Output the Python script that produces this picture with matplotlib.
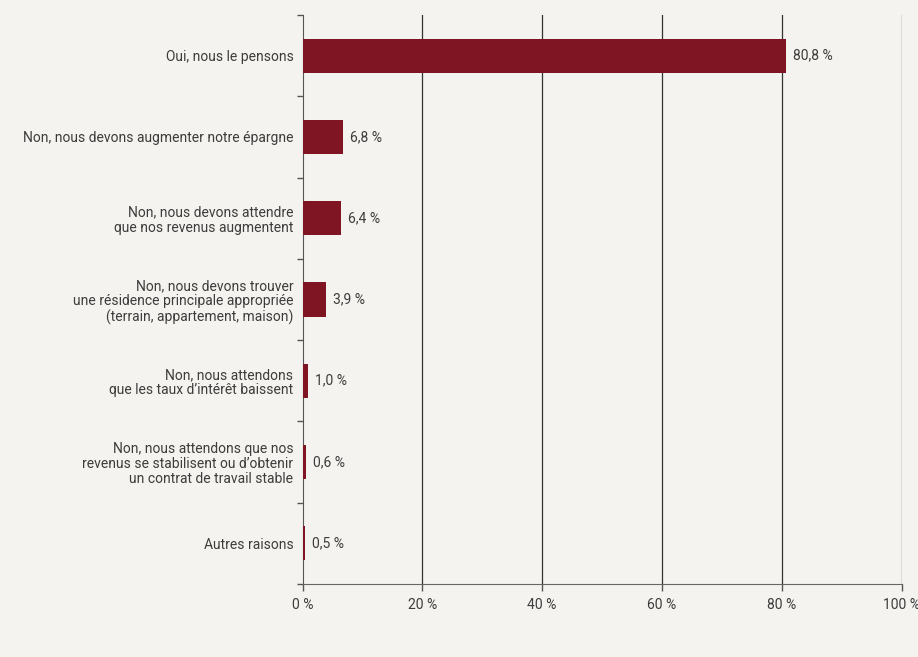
import matplotlib.pyplot as plt
import numpy as np

categories = [
    'Oui, nous le pensons',
    'Non, nous devons augmenter notre épargne',
    'Non, nous devons attendre\nque nos revenus augmentent',
    'Non, nous devons trouver\nune résidence principale appropriée\n(terrain, appartement, maison)',
    'Non, nous attendons\nque les taux d\u2019intérêt baissent',
    'Non, nous attendons que nos\nrevenus se stabilisent ou d\u2019obtenir\nun contrat de travail stable',
    'Autres raisons',
]
values = [80.8, 6.8, 6.4, 3.9, 1.0, 0.6, 0.5]
xticks = [0, 20, 40, 60, 80, 100]

bg = '#f5f3ef'
bar_color = '#7f1423'
txt = '#3c3c3c'
plt.rcParams['font.family'] = ['Roboto', 'DejaVu Sans']

fig = plt.figure(figsize=(9.18, 6.57), dpi=100, facecolor=bg)
ax = fig.add_axes([302.5/918, 1-584/657, 599/918, 569/657])
ax.set_facecolor(bg)

n = len(categories)
y = np.arange(n)
ax.barh(y, values, height=0.42, color=bar_color, zorder=3)
for yi, v in zip(y, values):
    ax.annotate(('%.1f' % v).replace('.', ',') + ' %', (v, yi), xytext=(5, 0),
                textcoords='offset points', va='center', ha='left', fontsize=10, color=txt)

ax.set_ylim(n - 0.5, -0.5)
ax.set_xlim(0, 100)
ax.set_yticks(y)
ax.set_yticklabels(categories, fontsize=10, color=txt, linespacing=1.1)
ax.set_yticks(np.arange(-0.5, n, 1), minor=True)
ax.tick_params(axis='y', which='major', length=0, pad=6.5)
ax.tick_params(axis='y', which='minor', length=4, color='#555555', width=1)

ax.set_xticks(xticks)
ax.set_xticklabels(['%d %%' % t for t in xticks], fontsize=10, color=txt)
ax.tick_params(axis='x', length=5, color='#555555', width=1, pad=5)

for t in xticks[1:]:
    ax.axvline(t, color='#333333', lw=0.9, zorder=1)

for s in ['top', 'right']:
    ax.spines[s].set_visible(False)
ax.spines['left'].set_color('#555555')
ax.spines['bottom'].set_color('#666666')

plt.savefig('out.png', facecolor=bg, dpi=100)
